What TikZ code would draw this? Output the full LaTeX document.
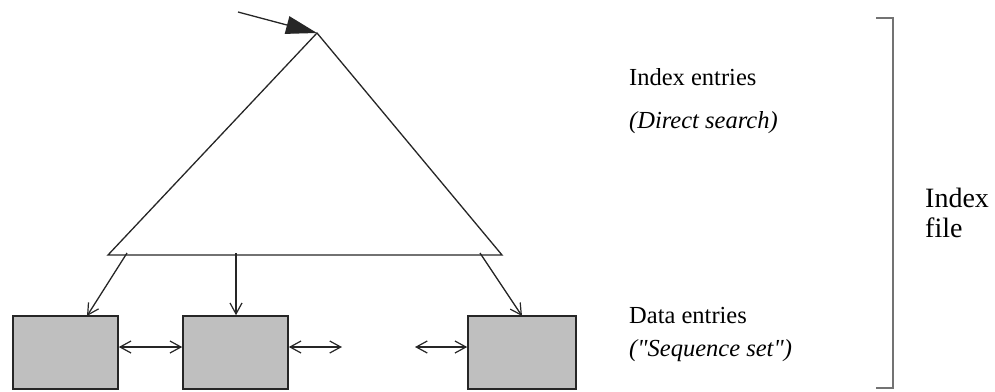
\documentclass[tikz,border=0pt]{standalone}
\usepackage{fontspec}
\setmainfont{Liberation Serif}[Ligatures=TeXOff]
\usetikzlibrary{arrows.meta,calc}
\begin{document}
\begin{tikzpicture}[x=1pt,y=-1pt,
  line/.style={draw=black!85, line width=1.3pt},
  barb/.tip={Straight Barb[length=11pt,width=12pt,line width=1.2pt]},
  link/.style={line, -barb},
  both/.style={line, barb-barb},
  block/.style={draw=black!85, line width=1.6pt, fill=black!25, minimum height=73pt, inner sep=0pt},
  lbl/.style={anchor=base west, inner sep=0pt, font=\fontsize{24.5}{28}\selectfont},
  ilbl/.style={lbl, font=\fontsize{24.5}{28}\selectfont\itshape},
  big/.style={anchor=base west, inner sep=0pt, font=\fontsize{28}{32}\selectfont}
]
\useasboundingbox (0,0) rectangle (995,391);
% triangle
\coordinate (apex) at (317,33);
\coordinate (bl) at (108,255);
\coordinate (br) at (502,255);
\draw[line] (apex) -- (bl) -- (br) -- cycle;
% incoming arrow
\coordinate (in) at (238,12);
\draw[line, -{Triangle[length=31pt,width=18pt]}] (in) -- (apex);
% data boxes
\node[block, minimum width=105pt] (b1) at (65.5,352.5) {};
\node[block, minimum width=105pt] (b2) at (235.5,352.5) {};
\node[block, minimum width=108pt] (b3) at (522,352.5) {};
% pointers from base
\coordinate (s1) at (127,253);
\coordinate (s2) at (236,253);
\coordinate (s3) at (480,253);
\coordinate (t1) at (87,316);
\coordinate (t3) at (522,316);
\draw[link] (s1) -- (t1);
\draw[link] (s2) -- (s2 |- b2.north);
\draw[link] (s3) -- (t3);
% sibling links
\coordinate (d) at (0,347);
\coordinate (e2) at (342,347);
\coordinate (e3) at (415,347);
\draw[both] (b1.east |- d) -- (b2.west |- d);
\draw[both] (b2.east |- d) -- (e2);
\draw[both] (e3) -- (b3.west |- d);
% labels
\node[lbl] (ie) at (629,85) {Index entries};
\node[ilbl] (ds) at (629,128) {(Direct search)};
\node[lbl] (de) at (629,323) {Data entries};
\node[ilbl] (ss) at (629,356) {("Sequence set")};
% bracket
\coordinate (k1) at (876,18);
\coordinate (k2) at (893,18);
\coordinate (k3) at (893,388);
\coordinate (k4) at (876,388);
\draw[draw=black!55, line width=2pt] (k1) -- (k2) -- (k3) -- (k4);
\node[big] (if1) at (925,207) {Index};
\node[big] (if2) at (925,237) {file};
\end{tikzpicture}
\end{document}
